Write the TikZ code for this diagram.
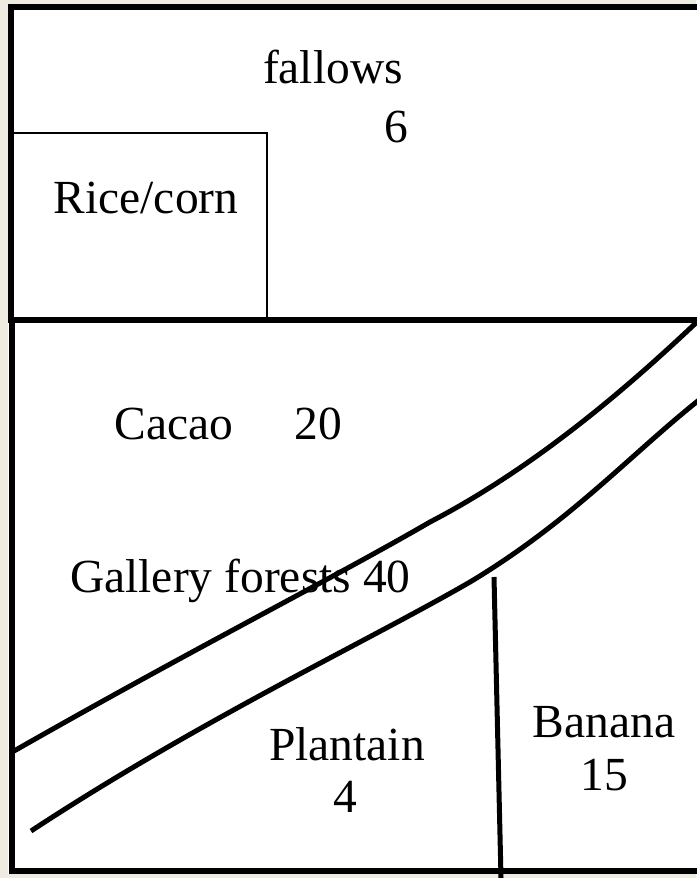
\documentclass[tikz,border=0pt]{standalone}
\usepackage{fontspec}
\setmainfont{Liberation Serif}
\definecolor{bgbeige}{HTML}{EFEBE1}
\begin{document}
\begin{tikzpicture}[x=1pt,y=-1pt,
  lbl/.style={anchor=base,inner sep=0pt,font=\fontsize{47.5}{56}\selectfont},
  frame/.style={line width=6pt,line cap=rect},
  thin/.style={line width=2pt},
  river/.style={line width=5pt,line cap=butt}]
\useasboundingbox (0,0) rectangle (696,878);
\fill[bgbeige] (0,0) rectangle (696,878);
\fill[white] (8,4) rectangle (696,874);
% rice/corn box
\draw[thin] (14,133) -- (267,133) -- (267,318);
% frame
\draw[frame] (11,7) -- (696,7);
\draw[frame] (11,7) -- (11,320);
\draw[frame] (11,320) -- (696,320);
\draw[frame] (12,320) -- (12,871) -- (696,871);
% river banks
\coordinate (u0) at (14,751);
\coordinate (u1) at (430,522);
\coordinate (u2) at (699,320);
\coordinate (l0) at (31,831);
\coordinate (l1) at (470,582);
\coordinate (l2) at (699,400);
\draw[river] (u0) .. controls (200,645) and (330,580) .. (u1)
                  .. controls (530,470) and (620,395) .. (u2);
\draw[river] (l0) .. controls (200,720) and (370,640) .. (l1)
                  .. controls (570,522) and (630,455) .. (l2);
% divider
\coordinate (d0) at (494,577);
\coordinate (d1) at (501,878);
\draw[river] (d0) -- (d1);
% labels
\node[lbl] (fal) at (333,83) {fallows};
\node[lbl] (fal6) at (396,142) {6};
\node[lbl] (rice) at (146,213) {Rice/corn};
\node[lbl] (cac) at (174,439) {Cacao};
\node[lbl] (cac20) at (318,439) {20};
\node[lbl,anchor=base west] (gal) at (70,592) {Gallery forests 40};
\node[lbl] (pla) at (347,760) {Plantain};
\node[lbl] (pla4) at (345,812) {4};
\node[lbl] (ban) at (604,737) {Banana};
\node[lbl] (ban15) at (604,790) {15};
\end{tikzpicture}
\end{document}
